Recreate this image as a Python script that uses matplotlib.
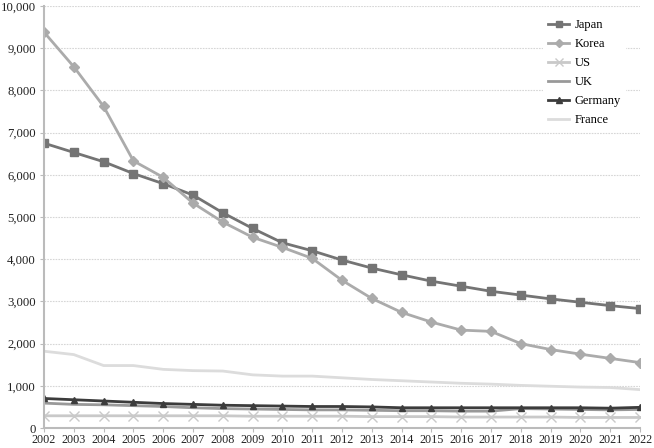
import matplotlib
matplotlib.use("Agg")
import matplotlib.pyplot as plt
from matplotlib.ticker import FuncFormatter

years = list(range(2002, 2023))
japan = [6750, 6530, 6310, 6030, 5790, 5520, 5100, 4730, 4390, 4200, 3980,
         3790, 3630, 3480, 3360, 3240, 3150, 3060, 2980, 2900, 2830]
korea = [9380, 8560, 7620, 6330, 5940, 5330, 4880, 4520, 4280, 4020, 3500,
         3070, 2740, 2510, 2320, 2290, 2000, 1860, 1750, 1650, 1550]
us = [290, 290, 290, 290, 290, 290, 290, 280, 280, 280, 280,
      270, 270, 270, 260, 260, 260, 260, 250, 250, 250]
uk = [590, 560, 550, 530, 510, 480, 460, 450, 440, 430, 430,
      420, 410, 410, 400, 400, 460, 450, 440, 430, 440]
germany = [700, 670, 640, 610, 580, 560, 540, 530, 520, 510, 510,
           500, 480, 480, 480, 480, 480, 480, 480, 470, 490]
france = [1820, 1740, 1480, 1480, 1390, 1360, 1350, 1260, 1230, 1230, 1190,
          1150, 1120, 1090, 1060, 1040, 1010, 990, 970, 960, 910]

plt.rcParams['font.family'] = ['Liberation Serif', 'DejaVu Serif']

fig = plt.figure(figsize=(6.54, 4.48), dpi=100)
ax = fig.add_axes([0.0673, 0.0446, 0.9786 - 0.0673, 0.9866 - 0.0446])

ax.plot(years, japan, color='#747474', lw=2, marker='s', ms=6, label='Japan')
ax.plot(years, korea, color='#ababab', lw=2, marker='D', ms=5, label='Korea')
ax.plot(years, us, color='#c9c9c9', lw=2, marker='x', ms=7, mew=1, label='US')
ax.plot(years, uk, color='#999999', lw=2, label='UK')
ax.plot(years, germany, color='#3c3c3c', lw=2, marker='^', ms=5, label='Germany')
ax.plot(years, france, color='#dcdcdc', lw=2, label='France')

ax.set_xlim(2002, 2022)
ax.set_ylim(0, 10000)
ax.set_xticks(years)
ax.set_xticklabels([str(y) for y in years])
ax.set_yticks(range(0, 10001, 1000))
ax.yaxis.set_major_formatter(FuncFormatter(lambda v, p: f"{int(v):,}"))
ax.tick_params(axis='both', colors='#bbbbbb', labelcolor='#222222')
ax.tick_params(axis='y', labelsize=9.2, length=3, direction='out', pad=3)
ax.tick_params(axis='x', labelsize=8.7, length=3, direction='out', pad=1.5)

ax.grid(axis='y', color='#d6d6d6', lw=0.8, ls=(0, (1.5, 1)))
ax.set_axisbelow(True)
for s in ['top', 'right']:
    ax.spines[s].set_visible(False)
ax.spines['left'].set_color('#bbbbbb')
ax.spines['left'].set_linewidth(1.5)
ax.spines['bottom'].set_color('#bbbbbb')
ax.spines['bottom'].set_linewidth(1.5)

leg = ax.legend(loc='upper right', bbox_to_anchor=(0.983, 0.99), frameon=True,
                fontsize=9, handlelength=1.7, handletextpad=0.45,
                labelspacing=0.56, borderaxespad=0.3, markerscale=0.8)
leg.get_frame().set_facecolor('white')
leg.get_frame().set_edgecolor('none')
leg.get_frame().set_alpha(1)

fig.savefig('out.png', dpi=100)
